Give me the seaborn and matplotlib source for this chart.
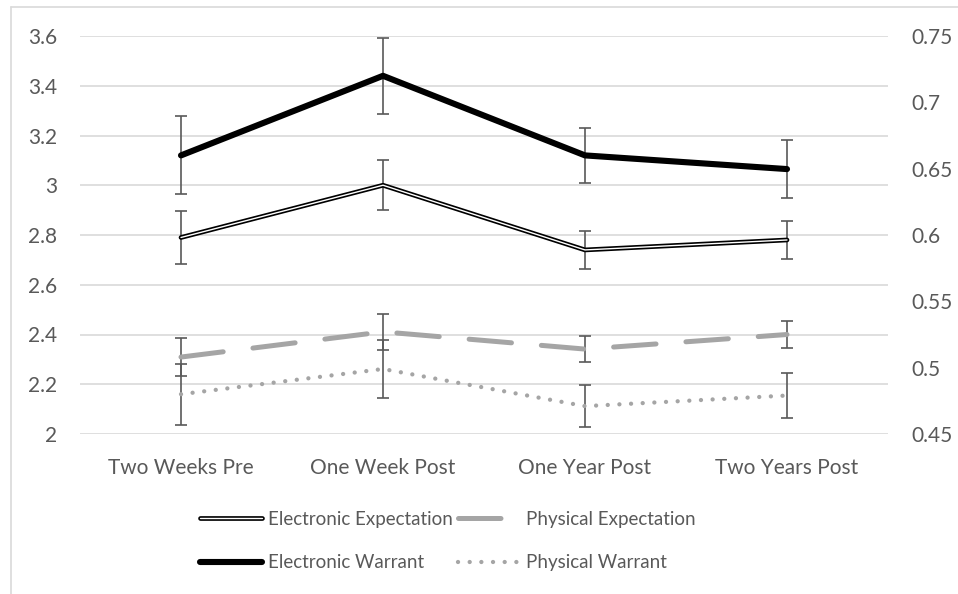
import numpy as np
import pandas as pd
import matplotlib
matplotlib.use('Agg')
import matplotlib.pyplot as plt
from matplotlib.lines import Line2D
from matplotlib.legend_handler import HandlerTuple
import seaborn as sns

# data
times = ['Two Weeks Pre', 'One Week Post', 'One Year Post', 'Two Years Post']
elec_expect = [2.79, 3.00, 2.74, 2.78]
elec_expect_err = [0.105, 0.10, 0.075, 0.078]
elec_warrant = [3.12, 3.44, 3.12, 3.065]
elec_warrant_err = [0.157, 0.153, 0.111, 0.117]
# right axis
phys_expect = [0.508, 0.527, 0.514, 0.525]
phys_expect_err = [0.014, 0.0138, 0.010, 0.0103]
phys_warrant = [0.48, 0.499, 0.471, 0.479]
phys_warrant_err = [0.0229, 0.0221, 0.0161, 0.0168]

sns.set_theme(style='white')
plt.rcParams['font.family'] = ['Lato', 'DejaVu Sans']
txt = '#595959'
grid = '#D9D9D9'
gray = '#A5A5A5'

df = pd.DataFrame({'time': times, 'ee': elec_expect, 'ew': elec_warrant,
                   'pe': phys_expect, 'pw': phys_warrant})

fig = plt.figure(figsize=(9.58, 5.94), dpi=100)
ax = fig.add_axes([80/958, 1-434/594, 808/958, 398/594])
ax2 = ax.twinx()
pos = np.arange(len(times))

# error bars first (drawn under the lines)
eb = dict(fmt='none', ecolor=txt, elinewidth=1.2, capsize=4, capthick=1.2, zorder=2)
ax.errorbar(pos, elec_warrant, yerr=elec_warrant_err, **eb)
ax.errorbar(pos, elec_expect, yerr=elec_expect_err, **eb)
ax2.errorbar(pos, phys_expect, yerr=phys_expect_err, **eb)
ax2.errorbar(pos, phys_warrant, yerr=phys_warrant_err, **eb)

# electronic (left axis)
sns.lineplot(x=pos, y=df['ew'], ax=ax, color='black', lw=4.4, zorder=3)
sns.lineplot(x=pos, y=df['ee'], ax=ax, color='black', lw=3.4, zorder=3)
sns.lineplot(x=pos, y=df['ee'], ax=ax, color='white', lw=1.0, zorder=4)

# physical (right axis)
pe_style = (0, (8.5, 6))
pw_style = (0, (0.01, 2.7))
sns.lineplot(x=pos, y=df['pe'], ax=ax2, color=gray, lw=3.6, zorder=3,
             linestyle=pe_style, dash_capstyle='round')
sns.lineplot(x=pos, y=df['pw'], ax=ax2, color=gray, lw=3.1, zorder=3,
             linestyle=pw_style, dash_capstyle='round')

ax.set_xlim(-0.5, 3.5)
ax.set_ylim(2, 3.6)
ax.set_yticks(np.arange(2, 3.61, 0.2))
ax.set_yticklabels(['2', '2.2', '2.4', '2.6', '2.8', '3', '3.2', '3.4', '3.6'])
ax2.set_ylim(0.45, 0.75)
ax2.set_yticks(np.arange(0.45, 0.751, 0.05))
ax2.set_yticklabels(['0.45', '0.5', '0.55', '0.6', '0.65', '0.7', '0.75'])
ax.set_xticks(pos)
ax.set_xticklabels(times)
ax.set_xlabel('')
ax.set_ylabel('')
ax2.set_ylabel('')

ax.yaxis.grid(True, color=grid, lw=1.2)
ax.set_axisbelow(True)
for a in (ax, ax2):
    for s in a.spines.values():
        s.set_visible(False)
    a.tick_params(length=0, labelsize=15, colors=txt)
ax.tick_params(axis='y', pad=16.5)
ax.tick_params(axis='x', pad=17.5)
ax2.tick_params(axis='y', pad=17)

# chart border (only left and top visible)
fig.add_artist(Line2D([10.5/958, 10.5/958], [0, 1-7/594], color=grid, lw=1.2))
fig.add_artist(Line2D([10.5/958, 1], [1-7/594, 1-7/594], color=grid, lw=1.2))

# legend
h_ee = (Line2D([], [], color='black', lw=3.4), Line2D([], [], color='white', lw=1.0))
h_ew = Line2D([], [], color='black', lw=4.4)
h_pe = Line2D([], [], color=gray, lw=3.6, linestyle=pe_style, dash_capstyle='round')
h_pw = Line2D([], [], color=gray, lw=3.1, linestyle=pw_style, dash_capstyle='round')
leg = fig.legend([h_ee, h_ew, h_pe, h_pw],
                 ['Electronic Expectation', 'Electronic Warrant',
                  'Physical Expectation', 'Physical Warrant'],
                 handler_map={tuple: HandlerTuple(ndivide=1)},
                 ncol=2, loc='center', bbox_to_anchor=(448/958, 1-541/594),
                 frameon=False, fontsize=13.5, handlelength=3.3, handletextpad=0.3,
                 columnspacing=0.3, labelspacing=1.4, labelcolor=txt)

fig.savefig('out.png', dpi=100)
